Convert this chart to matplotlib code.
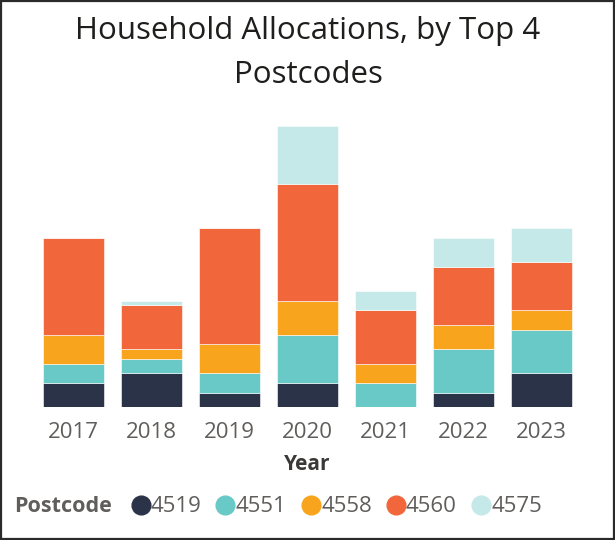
import matplotlib
matplotlib.use("Agg")
import matplotlib.pyplot as plt
from matplotlib.lines import Line2D
from matplotlib.patches import Rectangle
import numpy as np

years = ["2017", "2018", "2019", "2020", "2021", "2022", "2023"]
postcodes = ["4519", "4551", "4558", "4560", "4575"]
v4519 = [5, 7, 3, 5, 0, 3, 7]
v4551 = [4, 3, 4, 10, 5, 9, 9]
v4558 = [6, 2, 6, 7, 4, 5, 4]
v4560 = [20, 9, 24, 24, 11, 12, 10]
v4575 = [0, 1, 0, 12, 4, 6, 7]
series = [v4519, v4551, v4558, v4560, v4575]
colors = ["#2B3349", "#69C9C6", "#F8A51D", "#F1663A", "#C4E9E8"]

plt.rcParams['font.family'] = ['Open Sans', 'DejaVu Sans']

W, H = 615, 540
fig = plt.figure(figsize=(W / 100, H / 100), dpi=100)

base_px = 407.3
unit_px = 4.85
ymax = 60
ax = fig.add_axes([34.5 / W, (H - base_px) / H, 546 / W, ymax * unit_px / H])

x = np.arange(len(years))
bottom = np.zeros(len(years))
for vals, col in zip(series, colors):
    vals = np.array(vals, dtype=float)
    ax.bar(x, vals, width=0.775, bottom=bottom, color=col, edgecolor='white', linewidth=0.4)
    bottom += vals

ax.set_xlim(-0.5, len(years) - 0.5)
ax.set_ylim(0, ymax)
for s in ax.spines.values():
    s.set_visible(False)
ax.set_yticks([])
ax.set_xticks(x)
ax.set_xticklabels(years, fontsize=16, color="#605E5C")
ax.tick_params(axis='x', length=0, pad=10.5)
ax.set_xlabel("Year", fontsize=15, fontweight='bold', color="#3a3938", labelpad=8)

fig.text(308 / W, 1 - 39 / H, "Household Allocations, by Top 4", ha='center', va='baseline',
         fontsize=22.5, color="#1f1e1d")
fig.text(308 / W, 1 - 83 / H, "Postcodes", ha='center', va='baseline',
         fontsize=22.5, color="#1f1e1d")

# legend
ly = 1 - 512 / H
cy = 1 - 505 / H
fig.text(14 / W, ly, "Postcode", ha='left', va='baseline', fontsize=15.5, fontweight='bold', color="#605E5C")
cx = [140.5, 225.5, 311, 396, 481]
for px, lab, col in zip(cx, postcodes, colors):
    fig.add_artist(Line2D([px / W], [cy], marker='o', markersize=13.5, color=col,
                          linestyle='none', transform=fig.transFigure))
    fig.text((px + 10) / W, ly, lab, ha='left', va='baseline', fontsize=16, color="#605E5C")

fig.add_artist(Rectangle((0.0015, 0.002), 0.997, 0.996, transform=fig.transFigure,
                         fill=False, edgecolor="#2a2a2a", linewidth=1.6))

fig.savefig("out.png", dpi=100, facecolor='white')
